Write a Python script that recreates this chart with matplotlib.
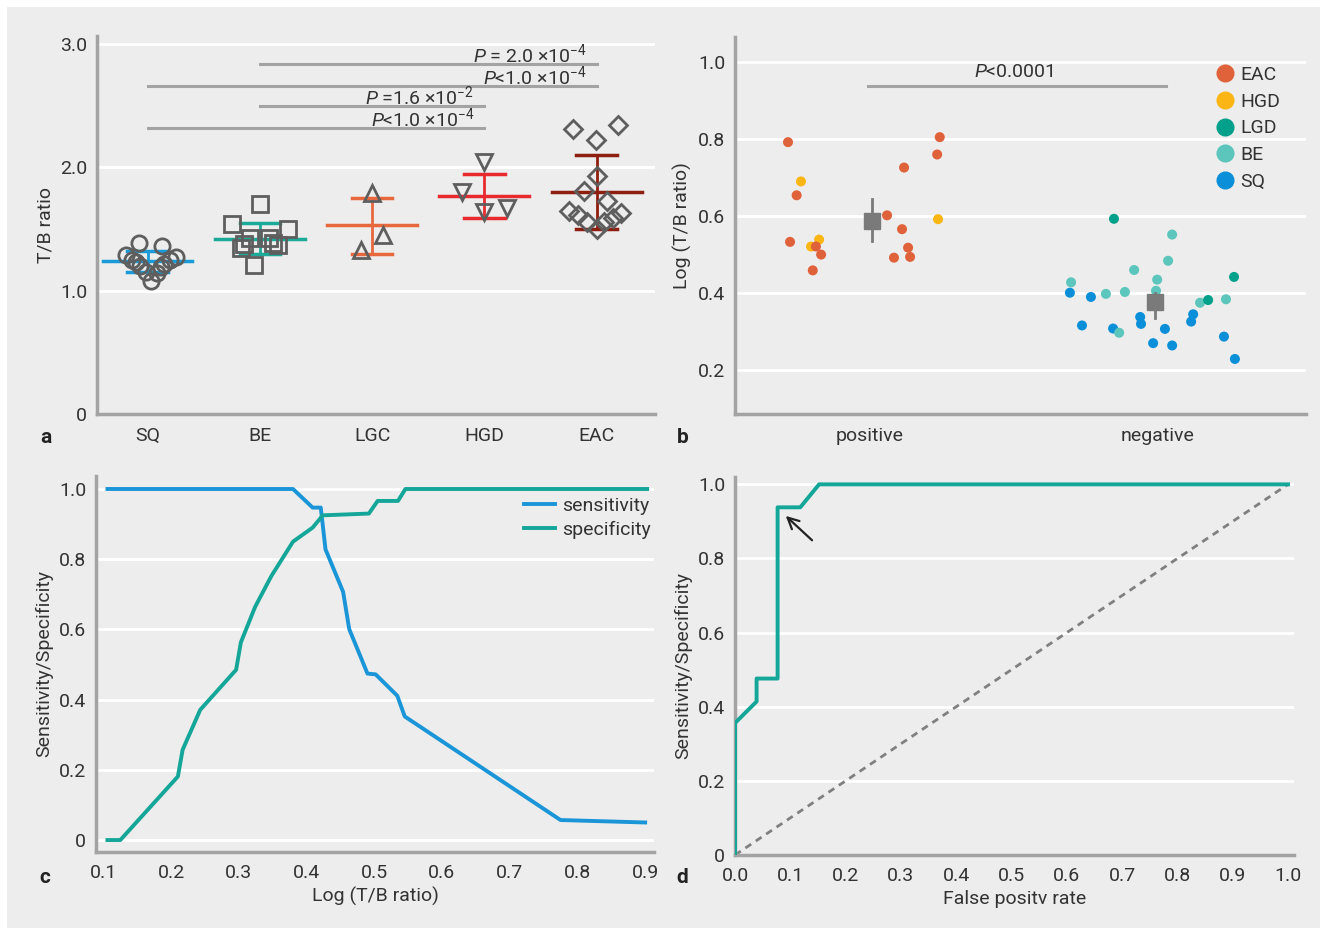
import numpy as np
import matplotlib
matplotlib.use('Agg')
import matplotlib.pyplot as plt
from matplotlib.patches import Rectangle
from matplotlib.lines import Line2D

plt.rcParams['font.family'] = ['Liberation Sans Narrow', 'Roboto', 'DejaVu Sans']
plt.rcParams['mathtext.fontset'] = 'custom'
plt.rcParams['mathtext.it'] = 'Roboto:italic'
plt.rcParams['mathtext.rm'] = 'Roboto'

BG = '#ecedec'
SPINE = '#a3a3a3'
TXT = '#333333'
FS = 14

# ---- panel a data ----
groups_a = ['SQ', 'BE', 'LGC', 'HGD', 'EAC']
markers_a = ['o', 's', '^', 'v', 'D']
line_colors_a = ['#1a9ad8', '#1caa98', '#e8683e', '#e82a2e', '#8e1f10']
sq_vals = [1.39, 1.36, 1.29, 1.27, 1.25, 1.25, 1.23, 1.22, 1.20, 1.19, 1.15, 1.14, 1.08]
sq_jit = [-0.08, 0.13, -0.19, 0.25, -0.14, 0.20, -0.10, 0.15, -0.07, 0.12, -0.01, 0.08, 0.03]
be_vals = [1.70, 1.54, 1.50, 1.43, 1.43, 1.35, 1.37, 1.38, 1.39, 1.21]
be_jit = [0.0, -0.25, 0.25, -0.09, 0.08, -0.17, 0.16, -0.14, 0.12, -0.05]
lgc_vals = [1.79, 1.33, 1.45]
lgc_jit = [0.0, -0.10, 0.10]
hgd_vals = [2.04, 1.80, 1.67, 1.64]
hgd_jit = [0.0, -0.20, 0.20, 0.0]
eac_vals = [2.31, 2.34, 2.22, 1.93, 1.81, 1.73, 1.65, 1.61, 1.63, 1.56, 1.56, 1.59, 1.50]
eac_jit = [-0.21, 0.19, -0.01, 0.0, -0.11, 0.09, -0.25, -0.17, 0.22, -0.09, 0.07, 0.15, 0.0]
means_a = [1.24, 1.42, 1.53, 1.77, 1.80]
sd_lo_a = [1.15, 1.30, 1.30, 1.59, 1.50]
sd_hi_a = [1.32, 1.55, 1.75, 1.95, 2.10]
# comparisons: (from group, to group, line y, label)
comps_a = [(1, 4, 2.835, r'$P$ = 2.0 ×10$^{-4}$'),
           (0, 4, 2.66, r'$P$<1.0 ×10$^{-4}$'),
           (1, 3, 2.495, r'$P$ =1.6 ×10$^{-2}$'),
           (0, 3, 2.32, r'$P$<1.0 ×10$^{-4}$')]

# ---- panel b data ----
pos_x = [-0.285, -0.240, -0.255, -0.278, -0.205, -0.177, -0.188, -0.170, -0.199,
         0.059, 0.118, 0.111, 0.132, 0.083, 0.139, 0.242, 0.233, 0.236]
pos_y = [0.792, 0.690, 0.654, 0.533, 0.521, 0.539, 0.521, 0.500, 0.459,
         0.602, 0.726, 0.566, 0.518, 0.492, 0.494, 0.805, 0.760, 0.592]
pos_g = ['EAC', 'HGD', 'EAC', 'EAC', 'HGD', 'HGD', 'EAC', 'EAC', 'EAC',
         'EAC', 'EAC', 'EAC', 'EAC', 'EAC', 'EAC', 'EAC', 'EAC', 'HGD']
neg_x = [0.847, 1.049, 1.035, 0.917, 0.698, 0.997, 1.264, 0.694, 0.767, 0.819,
         0.885, 0.993, 1.146, 1.174, 1.236, 0.938, 0.941, 0.736, 0.844, 0.865,
         1.024, 1.115, 1.122, 0.983, 1.049, 1.229, 1.267]
neg_y = [0.593, 0.552, 0.484, 0.460, 0.428, 0.435, 0.442, 0.401, 0.390, 0.398,
         0.403, 0.406, 0.375, 0.382, 0.384, 0.338, 0.320, 0.316, 0.308, 0.297,
         0.307, 0.326, 0.345, 0.270, 0.264, 0.287, 0.229]
neg_g = ['LGD', 'BE', 'BE', 'BE', 'BE', 'BE', 'LGD', 'SQ', 'SQ', 'BE',
         'BE', 'BE', 'BE', 'LGD', 'BE', 'SQ', 'SQ', 'SQ', 'SQ', 'BE',
         'SQ', 'SQ', 'SQ', 'SQ', 'SQ', 'SQ', 'SQ']
legend_b = ['EAC', 'HGD', 'LGD', 'BE', 'SQ']
colors_b = {'EAC': '#e0623b', 'HGD': '#fbb615', 'LGD': '#00a08b',
            'BE': '#5cc5bc', 'SQ': '#0b8fd8'}
mean_b_x = [0.007, 0.99]
mean_b = [0.588, 0.378]
err_lo_b = [0.535, 0.336]
err_hi_b = [0.645, 0.40]

# ---- panel c data ----
sens_x = [0.106, 0.380, 0.409, 0.421, 0.428, 0.454, 0.463, 0.490, 0.502, 0.534, 0.545, 0.775, 0.900]
sens_y = [1.0, 1.0, 0.947, 0.947, 0.828, 0.707, 0.601, 0.474, 0.472, 0.411, 0.352, 0.057, 0.050]
spec_x = [0.106, 0.125, 0.210, 0.217, 0.243, 0.296, 0.303, 0.324, 0.348, 0.380,
          0.409, 0.424, 0.492, 0.505, 0.535, 0.546, 0.903]
spec_y = [0.0, 0.0, 0.181, 0.257, 0.371, 0.485, 0.563, 0.664, 0.752, 0.850,
          0.890, 0.925, 0.930, 0.966, 0.966, 1.0, 1.0]

# ---- panel d data ----
fpr = [0.0, 0.0, 0.039, 0.039, 0.077, 0.077, 0.118, 0.152, 1.0]
tpr = [0.0, 0.356, 0.414, 0.476, 0.476, 0.938, 0.938, 1.0, 1.0]


def style_axes(ax):
    ax.set_facecolor(BG)
    for s in ['top', 'right']:
        ax.spines[s].set_visible(False)
    for s in ['left', 'bottom']:
        ax.spines[s].set_color(SPINE)
        ax.spines[s].set_linewidth(2.5)
    ax.tick_params(length=0, labelsize=FS, colors=TXT)
    ax.tick_params(axis='x', pad=9)
    ax.tick_params(axis='y', pad=7)
    ax.grid(axis='y', color='white', linewidth=2)
    ax.set_axisbelow(True)


fig = plt.figure(figsize=(13.27, 9.35), dpi=100)
fig.patch.set_facecolor('white')
fig.patches.append(Rectangle((0.005, 0.007), 0.99, 0.986, transform=fig.transFigure,
                             facecolor=BG, edgecolor='none', zorder=-10))

# panel a
ax = fig.add_axes([0.0731, 0.5572, 0.4205, 0.4043])
style_axes(ax)
all_vals = [sq_vals, be_vals, lgc_vals, hgd_vals, eac_vals]
all_jit = [sq_jit, be_jit, lgc_jit, hgd_jit, eac_jit]
for i in range(len(groups_a)):
    c = line_colors_a[i]
    ax.plot([i - 0.4, i + 0.4], [means_a[i]] * 2, color=c, lw=2.5, zorder=2)
    ax.plot([i, i], [sd_lo_a[i], sd_hi_a[i]], color=c, lw=2, zorder=2)
    ax.plot([i - 0.18, i + 0.18], [sd_lo_a[i]] * 2, color=c, lw=2.5, zorder=2)
    ax.plot([i - 0.18, i + 0.18], [sd_hi_a[i]] * 2, color=c, lw=2.5, zorder=2)
    ax.plot(i + np.array(all_jit[i]), all_vals[i], linestyle='none', marker=markers_a[i],
            ms=11 if markers_a[i] != 'D' else 9, mfc='none', mec='#5e5e5e', mew=2, zorder=3)
for g1, g2, yv, lab in comps_a:
    ax.plot([g1, g2], [yv, yv], color=SPINE, lw=2.2)
    ax.text(g2 - 0.09, yv + 0.08, lab, ha='right', va='center', fontsize=FS, color=TXT)
ax.set_xlim(-0.45, 4.52)
ax.set_ylim(0, 3.065)
ax.set_yticks([0, 1, 2, 3])
ax.set_yticklabels(['0', '1.0', '2.0', '3.0'])
ax.set_xticks(range(5))
ax.set_xticklabels(groups_a)
ax.set_ylabel('T/B ratio', fontsize=FS, color=TXT)

# panel b
ax = fig.add_axes([0.5539, 0.5572, 0.4303, 0.4032])
style_axes(ax)
ax.scatter(pos_x, pos_y, s=52, c=[colors_b[g] for g in pos_g], linewidths=0, zorder=3)
ax.scatter(neg_x, neg_y, s=52, c=[colors_b[g] for g in neg_g], linewidths=0, zorder=3)
for i in range(2):
    ax.plot([mean_b_x[i]] * 2, [err_lo_b[i], err_hi_b[i]], color='#7a7a7a', lw=2, zorder=3)
    ax.plot(mean_b_x[i], mean_b[i], marker='s', ms=11, color='#7a7a7a', zorder=4)
ax.plot([-0.007, 1.028], [0.938, 0.938], color=SPINE, lw=2.2)
ax.text(0.5, 0.974, r'$P$<0.0001', ha='center', va='center', fontsize=FS, color=TXT)
handles = [Line2D([], [], linestyle='none', marker='o', ms=12, color=colors_b[g]) for g in legend_b]
ax.legend(handles, legend_b, loc='upper right', bbox_to_anchor=(0.985, 0.97), frameon=False,
          fontsize=FS, handlelength=1.0, handletextpad=0.3, labelspacing=0.45, labelcolor=TXT)
ax.set_xlim(-0.469, 1.514)
ax.set_ylim(0.086, 1.065)
ax.set_yticks([0.2, 0.4, 0.6, 0.8, 1.0])
ax.set_yticklabels(['0.2', '0.4', '0.6', '0.8', '1.0'])
ax.set_xticks([0, 1])
ax.set_xticklabels(['positive', 'negative'])
ax.set_ylabel('Log (T/B ratio)', fontsize=FS, color=TXT)

# panel c
ax = fig.add_axes([0.0723, 0.0888, 0.4205, 0.4021])
style_axes(ax)
ax.plot(sens_x, sens_y, color='#1a95d8', lw=2.8, label='sensitivity', zorder=3)
ax.plot(spec_x, spec_y, color='#14a698', lw=2.8, label='specificity', zorder=3)
ax.legend(loc='upper right', bbox_to_anchor=(1.025, 0.99), frameon=False, fontsize=FS,
          handlelength=1.6, handletextpad=0.35, labelspacing=0.3, labelcolor=TXT)
ax.set_xlim(0.089, 0.913)
ax.set_ylim(-0.034, 1.037)
ax.set_xticks([0.1, 0.2, 0.3, 0.4, 0.5, 0.6, 0.7, 0.8, 0.9])
ax.set_yticks([0, 0.2, 0.4, 0.6, 0.8, 1.0])
ax.set_yticklabels(['0', '0.2', '0.4', '0.6', '0.8', '1.0'])
ax.set_xlabel('Log (T/B ratio)', fontsize=FS, color=TXT, labelpad=3)
ax.set_ylabel('Sensitivity/Specificity', fontsize=FS, color=TXT)

# panel d
ax = fig.add_axes([0.5539, 0.0856, 0.4213, 0.4043])
style_axes(ax)
ax.plot([0, 1], [0, 1], color='#808080', lw=2, linestyle=(0, (2.5, 2)), zorder=2)
ax.plot(fpr, tpr, color='#14a698', lw=2.8, zorder=3)
ax.annotate('', xy=(0.088, 0.92), xytext=(0.143, 0.844),
            arrowprops=dict(arrowstyle='->', color='#222222', lw=1.6, mutation_scale=20))
ax.set_xlim(0, 1.011)
ax.set_ylim(0, 1.02)
ax.set_xticks(np.arange(0, 1.01, 0.1))
ax.set_xticklabels(['%.1f' % v for v in np.arange(0, 1.01, 0.1)])
ax.set_yticks([0, 0.2, 0.4, 0.6, 0.8, 1.0])
ax.set_yticklabels(['0', '0.2', '0.4', '0.6', '0.8', '1.0'])
ax.set_xlabel('False positv rate', fontsize=FS, color=TXT, labelpad=3)
ax.set_ylabel('Sensitivity/Specificity', fontsize=FS, color=TXT)

for lab, x, y in [('a', 0.030, 0.526), ('b', 0.510, 0.526), ('c', 0.030, 0.056), ('d', 0.510, 0.056)]:
    fig.text(x, y, lab, fontsize=15, fontweight='bold', color='#222222')

fig.savefig('out.png', dpi=100, facecolor='white')
